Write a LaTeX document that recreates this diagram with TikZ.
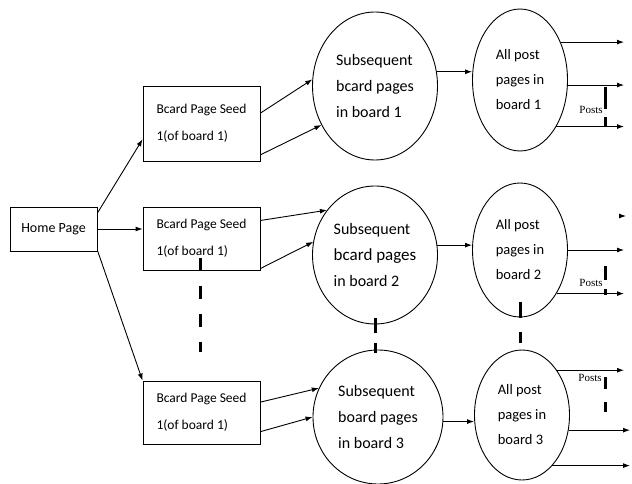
\documentclass[tikz,border=0pt]{standalone}
\usepackage{fontspec}
\setmainfont{Carlito}
\newfontfamily\postsfont{Liberation Serif}
\usetikzlibrary{arrows.meta,shapes.geometric,calc}
\begin{document}
\begin{tikzpicture}[x=1pt,y=-1pt,
  box/.style={draw,line width=0.9pt,rectangle,minimum width=117pt,inner xsep=10pt,inner ysep=0pt,align=left,font=\fontsize{13.5}{27}\selectfont},
  homebox/.style={draw,line width=0.9pt,rectangle,minimum width=87pt,minimum height=44pt,inner sep=0pt,font=\fontsize{14}{17}\selectfont},
  big/.style={draw,ellipse,line width=0.9pt,inner sep=0pt,align=left,font=\fontsize{16}{26}\selectfont},
  small/.style={draw,ellipse,line width=0.9pt,inner sep=0pt,align=left,font=\fontsize{14.5}{25}\selectfont},
  arr/.style={-{Latex[length=7pt,width=5pt]},line width=0.9pt},
  posts/.style={font=\postsfont\fontsize{11}{13}\selectfont,inner sep=0pt},
  thickdash/.style={line width=3pt}
]
\useasboundingbox (0,0) rectangle (632,484);

% left boxes
\node[homebox] (home) at (53.5,229) {Home Page};
\node[box,minimum height=75pt] (seed1) at (201.5,123.5) {Bcard Page Seed\\1(of board 1)};
\node[box,minimum height=63pt] (seed2) at (201.5,238.5) {Bcard Page Seed\\1(of board 1)};
\node[box,minimum height=63pt] (seed3) at (201.5,412.5) {Bcard Page Seed\\1(of board 1)};

% big circles
\node[big,minimum width=125pt,minimum height=148pt] (c1) at (375,86) {Subsequent\\bcard pages\\in board 1};
\node[big,minimum width=125pt,minimum height=138pt] (c2) at (375,255) {Subsequent\\{\fontsize{17}{26}\selectfont bcard pages}\\in board 2};
\node[big,minimum width=130pt,minimum height=134pt] (c3) at (378,417) {Subsequent\\board pages\\in board 3};

% small circles
\node[small,minimum width=95pt,minimum height=142pt] (pA) at (520,80) {All post\\pages in\\board 1};
\node[small,minimum width=95pt,minimum height=134pt] (pB) at (520,250) {All post\\pages in\\board 2};
\node[small,minimum width=95pt,minimum height=130pt] (pC) at (522,415) {All post\\pages in\\board 3};

% posts labels
\node[posts] (postsA) at (591,110) {Posts};
\node[posts] (postsB) at (591,283) {Posts};
\node[posts] (postsC) at (590,378) {Posts};

% right edge coordinates
\coordinate (rx) at (624,0);
\coordinate (rx2) at (630,0);

% home to seeds
\draw[arr] (home.20) -- (seed1.195);
\draw[arr] (home.east) -- (home.east -| seed2.west);
\draw[arr] (home.-26) -- (seed3.north west);

% seeds to big circles
\draw[arr] (seed1.10) -- (c1.174);
\draw[arr] (seed1.-28) -- (c1.216);
\draw[arr] (seed2.17) -- (c2.137);
\draw[arr] (seed2.-27) -- (c2.168);
\draw[arr] (seed3.10) -- (c3.154);
\draw[arr] (seed3.-18) -- (c3.west);

% big circles to small circles
\draw[arr] (c1.13) -- (c1.13 -| pA.west);
\draw[arr] (c2.9) -- (c2.9 -| pB.west);
\draw[arr] (c3.-4) -- (c3.-4 -| pC.west);

% outgoing arrows
\draw[arr] (pA.43.5) -- (pA.43.5 -| rx);
\draw[arr] (pA.-6) -- (pA.-6 -| rx);
\draw[arr] (pA.-52) -- (pA.-52 -| rx);

\coordinate (tBs) at (619,216);
\coordinate (tB) at (626,216);
\draw[arr] (tBs) -- (tB);
\draw[arr] (pB.east) -- (pB.east -| rx);
\draw[arr] (pB.-50) -- (pB.-50 -| rx);

\draw[arr] (pC.52.7) -- (pC.52.7 -| rx);
\draw[arr] (pC.-18) -- (pC.-18 -| rx2);
\draw[arr] (pC.-59) -- (pC.-59 -| rx2);

% thick dashed lines
\coordinate (dA1) at (605,87);
\coordinate (dA2) at (605,127);
\draw[thickdash,dash pattern=on 22pt off 8pt] (dA1) -- (dA2);
\coordinate (dB1) at (605,266);
\coordinate (dB2) at (605,295);
\draw[thickdash,dash pattern=on 14pt off 9pt] (dB1) -- (dB2);
\coordinate (dC1) at (605,377);
\coordinate (dC2) at (605,412);
\draw[thickdash,dash pattern=on 12pt off 13pt] (dC1) -- (dC2);

\coordinate (dS1) at (200,258);
\coordinate (dS2) at (200,352);
\draw[thickdash,dash pattern=on 13pt off 15pt] (dS1) -- (dS2);
\coordinate (dM1) at (375,318);
\coordinate (dM2) at (375,353);
\draw[thickdash,dash pattern=on 15pt off 10pt] (dM1) -- (dM2);
\coordinate (dP1) at (520,302);
\coordinate (dP2) at (520,343);
\draw[thickdash,dash pattern=on 16pt off 14pt] (dP1) -- (dP2);
\end{tikzpicture}
\end{document}
